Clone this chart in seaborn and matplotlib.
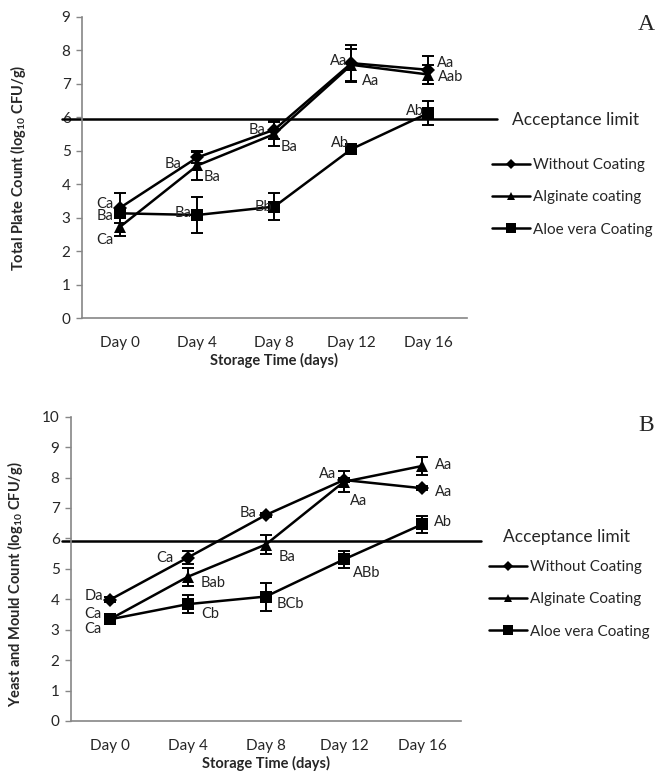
import numpy as np
import pandas as pd
import matplotlib
matplotlib.use("Agg")
import matplotlib.pyplot as plt
import seaborn as sns
from matplotlib.lines import Line2D

# ---------------- data ----------------
days = ["Day 0", "Day 4", "Day 8", "Day 12", "Day 16"]

treat_A = ["Without Coating", "Alginate coating", "Aloe vera Coating"]
tpc_without = [3.30, 4.80, 5.63, 7.62, 7.42]
tpc_alginate = [2.73, 4.56, 5.50, 7.57, 7.28]
tpc_aloe = [3.13, 3.08, 3.33, 5.05, 6.13]
tpc_without_sd = [0.45, 0.17, 0.27, 0.55, 0.42]
tpc_alginate_sd = [0.27, 0.43, 0.37, 0.47, 0.28]
tpc_aloe_sd = [0.10, 0.53, 0.40, 0.05, 0.37]
tpc_without_lab = ["Ca", "Ba", "Ba", "Aa", "Aa"]
tpc_alginate_lab = ["Ca", "Ba", "Ba", "Aa", "Aab"]
tpc_aloe_lab = ["Ba", "Ba", "Bb", "Ab", "Ab"]
tpc_limit = 5.95

treat_B = ["Without Coating", "Alginate Coating", "Aloe vera Coating"]
ym_without = [3.98, 5.37, 6.77, 7.92, 7.65]
ym_alginate = [3.34, 4.74, 5.80, 7.86, 8.38]
ym_aloe = [3.34, 3.84, 4.09, 5.31, 6.46]
ym_without_sd = [0.08, 0.22, 0.08, 0.08, 0.06]
ym_alginate_sd = [0.10, 0.30, 0.31, 0.35, 0.31]
ym_aloe_sd = [0.15, 0.30, 0.46, 0.27, 0.27]
ym_without_lab = ["Da", "Ca", "Ba", "Aa", "Aa"]
ym_alginate_lab = ["Ca", "Bab", "Ba", "Aa", "Aa"]
ym_aloe_lab = ["Ca", "Cb", "BCb", "ABb", "Ab"]
ym_limit = 5.93

# ---------------- style ----------------
sns.set_style("white")
plt.rcParams["font.family"] = ["Lato", "DejaVu Sans"]
plt.rcParams["mathtext.fontset"] = "custom"
plt.rcParams["mathtext.rm"] = "Lato"
plt.rcParams["mathtext.bf"] = "Lato:bold"

AXC = "#868686"
markers = ["D", "^", "s"]
msizes = [7, 8, 9]
leg_msizes = [5, 6, 7]

# label offsets in pixels (dx, dy up)
offA = [
    [(-15, 4), (-24, -7), (-17, 0), (-13, 2), (17, 7)],
    [(-15, -13), (15, -12), (15, -13), (19, -16), (22, -2)],
    [(-15, -3), (-14, 2), (-11, 0), (-11, 6), (-14, 2)],
]
offB = [
    [(-16, 4), (-23, 0), (-18, 2), (-16, 6), (22, -4)],
    [(-17, 5), (25, -6), (21, -12), (15, -19), (22, 1)],
    [(-17, -10), (22, -10), (25, -7), (23, -14), (21, 2)],
]

fig = plt.figure(figsize=(6.58, 7.81), dpi=100)
W, H = 658, 781


def px_axes(l, t, r, b):
    return fig.add_axes([l / W, 1 - b / H, (r - l) / W, (b - t) / H])


def panel(ax, treats, vals, sds, labs, offs, ymax, limit, lim_x, ylabel, ylab_xy):
    rows = []
    for t, v in zip(treats, vals):
        for i, d in enumerate(days):
            rows.append({"pos": i, "value": v[i], "treat": t})
    df = pd.DataFrame(rows)
    sns.lineplot(data=df, x="pos", y="value", hue="treat", style="treat",
                 palette=["black"] * 3, markers=dict(zip(treats, markers)),
                 dashes=False, linewidth=1.8, markeredgewidth=0,
                 errorbar=None, legend=False, ax=ax, zorder=3)
    for ln, ms in zip(ax.lines, msizes):
        ln.set_markersize(ms)
    pos = np.arange(len(days))
    for v, s in zip(vals, sds):
        ax.errorbar(pos, v, yerr=s, fmt="none", ecolor="black", elinewidth=1.4,
                    capsize=4, capthick=1.4, zorder=2)
    for v, lab, off in zip(vals, labs, offs):
        for i in range(len(days)):
            ax.annotate(lab[i], xy=(pos[i], v[i]), xytext=off[i],
                        textcoords="offset pixels", ha="center", va="center",
                        fontsize=10.5, color="#222222", zorder=4)
    ax.axhline(limit, xmin=lim_x[0], xmax=lim_x[1], color="black", lw=1.8,
               clip_on=False, zorder=1)
    ax.set_xlim(-0.5, len(days) - 0.5)
    ax.set_ylim(0, ymax)
    ax.set_yticks(np.arange(0, ymax + 1, 1))
    ax.set_xticks(np.arange(-0.5, len(days), 1))
    ax.set_xticklabels([])
    ax.set_xticks(pos, minor=True)
    ax.set_xticklabels(days, minor=True, fontsize=11)
    ax.tick_params(axis="x", which="major", length=5, color=AXC, width=1, direction="out")
    ax.tick_params(axis="x", which="minor", length=0, pad=13)
    ax.tick_params(axis="y", length=4, color=AXC, width=1, direction="out",
                   labelsize=11, pad=4, left=True)
    for sp in ["top", "right"]:
        ax.spines[sp].set_visible(False)
    for sp in ["left", "bottom"]:
        ax.spines[sp].set_color(AXC)
        ax.spines[sp].set_linewidth(1.2)
    ax.set_xlabel("Storage Time (days)", fontsize=10.5, fontweight="bold", labelpad=2)
    ax.set_ylabel(ylabel, fontsize=10.5, fontweight="bold")
    ax.yaxis.set_label_coords(*ylab_xy)
    ax.set_facecolor("none")


axA = px_axes(81.7, 17, 467, 318)
panel(axA, treat_A, [tpc_without, tpc_alginate, tpc_aloe],
      [tpc_without_sd, tpc_alginate_sd, tpc_aloe_sd],
      [tpc_without_lab, tpc_alginate_lab, tpc_aloe_lab], offA, 9, tpc_limit,
      (-0.051, 1.078), r"Total Plate Count (log$_{\mathbf{10}}$ CFU/g)", (-0.139, 0.5))

axB = px_axes(70.7, 416.7, 461, 721)
panel(axB, treat_B, [ym_without, ym_alginate, ym_aloe],
      [ym_without_sd, ym_alginate_sd, ym_aloe_sd],
      [ym_without_lab, ym_alginate_lab, ym_aloe_lab], offB, 10, ym_limit,
      (-0.022, 1.051), r"Yeast and Mould Count (log$_{\mathbf{10}}$ CFU/g)", (-0.117, 0.45))

# acceptance-limit captions and panel letters
fig.text(512 / W, 1 - 120 / H, "Acceptance limit", fontsize=12.5, va="center", ha="left")
fig.text(503 / W, 1 - 537 / H, "Acceptance limit", fontsize=12.5, va="center", ha="left")
fig.text(646 / W, 1 - 25 / H, "A", fontsize=17, family="Liberation Serif", ha="center", va="center")
fig.text(646 / W, 1 - 425 / H, "B", fontsize=17, family="Liberation Serif", ha="center", va="center")


def legend(treats, left, top):
    handles = [Line2D([], [], color="black", lw=1.8, marker=m, markersize=s,
                      markeredgewidth=0) for m, s in zip(markers, leg_msizes)]
    fig.legend(handles, treats, loc="upper left",
               bbox_to_anchor=(left / W, 1 - top / H), frameon=False,
               fontsize=11, handlelength=2.5, handletextpad=0.2,
               labelspacing=1.2, borderpad=0, borderaxespad=0)


legend(treat_A, 492, 158)
legend(treat_B, 489, 560)

fig.savefig("out.png", dpi=100)
